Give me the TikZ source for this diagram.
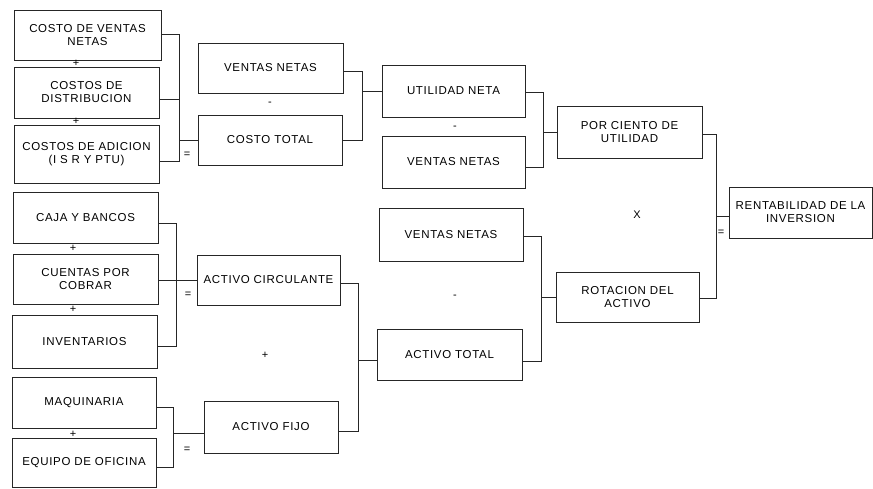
\documentclass[tikz,border=0pt]{standalone}
\usepackage{fontspec}
\setmainfont{Liberation Sans}[LetterSpace=6]
\begin{document}
\begin{tikzpicture}[x=1pt,y=-1pt,
  box/.style={draw=black!85, line width=0.8pt, inner sep=0pt, align=center,
    font=\fontsize{11.5}{13}\selectfont},
  wire/.style={draw=black!85, line width=0.8pt},
  sym/.style={inner sep=0pt, font=\fontsize{11}{11}\selectfont}]
\useasboundingbox (0,0) rectangle (873,488);
% left column
\node[box, minimum width=147pt, minimum height=50pt] (A1) at (87.5,35) {COSTO DE VENTAS\\NETAS};
\node[box, minimum width=145pt, minimum height=51pt] (A2) at (86.5,92.5) {COSTOS DE\\DISTRIBUCION};
\node[box, minimum width=145pt, minimum height=58pt] (A3) at (86.5,154) {COSTOS DE ADICION\\(I S R  Y PTU)};
\node[box, minimum width=145pt, minimum height=51pt] (B1) at (85.5,217.5) {CAJA Y BANCOS};
\node[box, minimum width=145pt, minimum height=50pt] (B2) at (85.5,279) {CUENTAS POR\\COBRAR};
\node[box, minimum width=145pt, minimum height=53pt] (B3) at (84.5,341.5) {INVENTARIOS};
\node[box, minimum width=144pt, minimum height=51pt] (C1) at (84,402.5) {MAQUINARIA};
\node[box, minimum width=144pt, minimum height=49pt] (C2) at (84,462.5) {EQUIPO DE OFICINA};
% second column
\node[box, minimum width=145pt, minimum height=50pt] (D1) at (270.5,68) {VENTAS NETAS};
\node[box, minimum width=144pt, minimum height=50pt] (D2) at (270,140) {COSTO TOTAL};
\node[box, minimum width=143pt, minimum height=50pt] (D3) at (268.5,280) {ACTIVO CIRCULANTE};
\node[box, minimum width=134pt, minimum height=52pt] (D4) at (271,427) {ACTIVO FIJO};
% third column
\node[box, minimum width=143pt, minimum height=52pt] (E1) at (453.5,91) {UTILIDAD NETA};
\node[box, minimum width=143pt, minimum height=52pt] (E2) at (453.5,162) {VENTAS NETAS};
\node[box, minimum width=144pt, minimum height=53pt] (E3) at (451,234.5) {VENTAS NETAS};
\node[box, minimum width=145pt, minimum height=51pt] (E4) at (449.5,354.5) {ACTIVO TOTAL};
% fourth column
\node[box, minimum width=145pt, minimum height=52pt] (F1) at (629.5,132) {POR CIENTO DE\\UTILIDAD};
\node[box, minimum width=143pt, minimum height=50pt] (F2) at (627.5,297) {ROTACION DEL\\ACTIVO};
% result
\node[box, minimum width=143pt, minimum height=51pt] (G) at (800.5,212.5) {RENTABILIDAD DE LA\\INVERSION};
% junctions
\coordinate (j1) at (179,140);
\coordinate (j2) at (362,91);
\coordinate (j3) at (543,132);
\coordinate (j4) at (176,280);
\coordinate (j5) at (173,433);
\coordinate (j6) at (358,360);
\coordinate (j7) at (541,297);
\coordinate (j8) at (716,216);
% group 1
\draw[wire] ([yshift=1pt]A1.east) -| (j1);
\draw[wire] ([yshift=-7pt]A3.east) -| (j1);
\draw[wire] ([yshift=-6.5pt]A2.east) -- ([yshift=-6.5pt]A2.east -| j1);
\draw[wire] (j1) -- (D2.west);
% group 2
\draw[wire] ([yshift=-3pt]D1.east) -| (j2);
\draw[wire] (D2.east) -| (j2);
\draw[wire] (j2) -- (E1.west);
% group 3
\draw[wire] ([yshift=-1pt]E1.east) -| (j3);
\draw[wire] ([yshift=-5pt]E2.east) -| (j3);
\draw[wire] (j3) -- (F1.west);
% group 4
\draw[wire] ([yshift=-5.5pt]B1.east) -| (j4);
\draw[wire] ([yshift=-4.5pt]B3.east) -| (j4);
\draw[wire] ([yshift=-1pt]B2.east) -- (D3.west);
% group 5
\draw[wire] ([yshift=-4.5pt]C1.east) -| (j5);
\draw[wire] ([yshift=-4.5pt]C2.east) -| (j5);
\draw[wire] (j5) -- (D4.west |- j5);
% group 6
\draw[wire] ([yshift=-3pt]D3.east) -| (j6);
\draw[wire] ([yshift=-4pt]D4.east) -| (j6);
\draw[wire] (j6) -- (E4.west |- j6);
% group 7
\draw[wire] ([yshift=-1.5pt]E3.east) -| (j7);
\draw[wire] ([yshift=-6.5pt]E4.east) -| (j7);
\draw[wire] (j7) -- (F2.west);
% group 8
\draw[wire] ([yshift=-2pt]F1.east) -| (j8);
\draw[wire] ([yshift=-1pt]F2.east) -| (j8);
\draw[wire] (j8) -- (G.west |- j8);
% operator symbols
\node[sym] (p1) at (76,63) {+};
\node[sym] (p2) at (76,121) {+};
\node[sym] (p3) at (73,248) {+};
\node[sym] (p4) at (73,309) {+};
\node[sym] (p5) at (73,434) {+};
\node[sym] (p6) at (265,355) {+};
\node[sym] (e1) at (187,155) {=};
\node[sym] (e2) at (188,295) {=};
\node[sym] (e3) at (187,450) {=};
\node[sym] (e4) at (721,233) {=};
\node[sym] (m1) at (270,104) {-};
\node[sym] (m2) at (455,128) {-};
\node[sym] (m3) at (455,297) {-};
\node[sym] (x1) at (637,215) {X};
\end{tikzpicture}
\end{document}
